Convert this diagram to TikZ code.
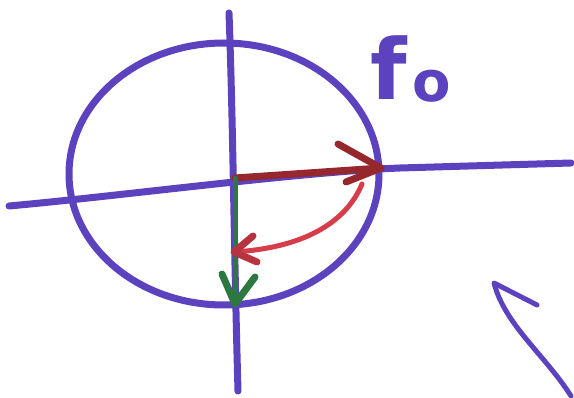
\documentclass[tikz,border=0pt]{standalone}
\usepackage{fontspec}
\setmainfont{DejaVu Sans}
\definecolor{pen}{RGB}{92,66,190}
\definecolor{redpen}{RGB}{215,60,75}
\definecolor{darkred}{RGB}{150,40,45}
\definecolor{greenpen}{RGB}{45,120,65}
\begin{document}
\begin{tikzpicture}[x=1pt,y=-1pt,
  marker/.style={line width=7pt,line cap=round,line join=round},
  thinmarker/.style={line width=5pt,line cap=round,line join=round}]
\useasboundingbox (0,0) rectangle (574,398);
% named points
\coordinate (O) at (235,178);
\coordinate (hl) at (9,206);
\coordinate (hr) at (571,163);
\coordinate (vt) at (229,13);
\coordinate (vb) at (238,391);
\coordinate (rt) at (381,168);
\coordinate (gt) at (235,304);
\coordinate (as) at (362,184);
\coordinate (at) at (234,252);
\coordinate (ptail) at (571,396);
\coordinate (ptip) at (494,283);
% circle
\draw[marker,pen] (224,174) ellipse [x radius=155, y radius=131];
% axes
\draw[marker,pen] (hl) .. controls (120,196) and (300,172) .. (400,168) -- (hr);
\draw[marker,pen] (vt) .. controls (233,120) and (234,250) .. (vb);
% red horizontal arrow
\draw[marker,darkred] (O) -- (rt);
\draw[marker,darkred] (338,144) -- (rt) -- (346,182);
% green arrow
\draw[thinmarker,greenpen] (O) -- (gt);
\draw[marker,greenpen] (222,274) -- (gt) -- (255,277);
% red curved arrow
\draw[thinmarker,redpen] (as) .. controls (345,225) and (300,248) .. (at);
\draw[marker,redpen!85!black] (253,236) -- (at) -- (257,262);
% lower right arrow
\draw[thinmarker,pen] (ptail) .. controls (545,355) and (505,325) .. (ptip) -- (537,305);
% label
\node[pen,anchor=base west,inner sep=0,font=\bfseries] (lbl) at (370,100)
  {\fontsize{84}{84}\selectfont f\kern6pt\raisebox{-2pt}{\fontsize{56}{56}\selectfont o}};
\end{tikzpicture}
\end{document}
